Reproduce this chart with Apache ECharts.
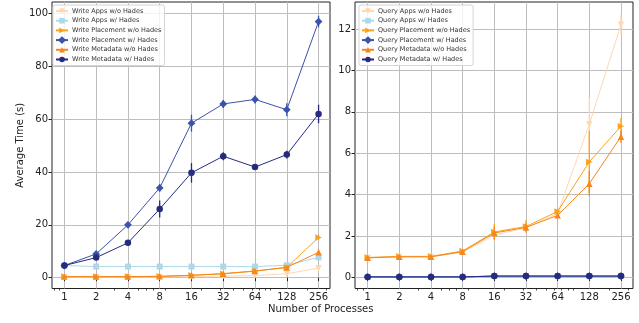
<!DOCTYPE html>
<html><head><meta charset="utf-8">
<script src="https://cdn.jsdelivr.net/npm/echarts@6/dist/echarts.min.js"></script>
<style>html,body{margin:0;padding:0;background:#fff}#c{width:639px;height:323px}</style>
</head><body><div id="c"></div><script>
// ---- data ----
const processes = [1, 2, 4, 8, 16, 32, 64, 128, 256];
const xTickLabels = [1, 2, 4, 8, 16, 32, 64, 128, 256];
const xMinorTicks = [0.8, 0.9, 3, 5, 6, 7, 9, 20, 30, 40, 50, 60, 70, 80, 90, 200, 300];
const leftYTicks = [0, 20, 40, 60, 80, 100];
const rightYTicks = [0, 2, 4, 6, 8, 10, 12];

const writeNames = ['Write Apps w/o Hades', 'Write Apps w/ Hades', 'Write Placement w/o Hades',
  'Write Placement w/ Hades', 'Write Metadata w/o Hades', 'Write Metadata w/ Hades'];
const queryNames = ['Query Apps w/o Hades', 'Query Apps w/ Hades', 'Query Placement w/o Hades',
  'Query Placement w/ Hades', 'Query Metadata w/o Hades', 'Query Metadata w/ Hades'];

const writeAppsWo       = [0.3, 0.3, 0.3, 0.3, 0.4, 0.6, 0.8, 1.5, 3.6];
const writeAppsW        = [4.6, 4.2, 4.2, 4.2, 4.2, 4.2, 4.2, 4.7, 7.7];
const writePlacementWo  = [0.4, 0.4, 0.4, 0.5, 0.9, 1.5, 2.5, 3.9, 15.2];
const writePlacementW   = [4.6, 9.0, 20.0, 34.0, 58.5, 65.8, 67.5, 63.6, 97.0];
const writeMetadataWo   = [0.4, 0.4, 0.4, 0.5, 0.9, 1.5, 2.5, 3.9, 9.6];
const writeMetadataW    = [4.6, 7.6, 13.2, 26.0, 39.7, 46.0, 41.9, 46.6, 62.0];

const writeAppsWoErr      = [0.1, 0.1, 0.1, 0.1, 0.1, 0.2, 0.2, 0.3, 0.8];
const writeAppsWErr       = [0.2, 0.2, 0.2, 0.2, 0.2, 0.2, 0.2, 0.3, 0.6];
const writePlacementWoErr = [0.1, 0.1, 0.1, 0.1, 0.2, 0.2, 0.3, 0.4, 1.0];
const writePlacementWErr  = [0.5, 0.8, 1.0, 1.5, 3.2, 1.5, 1.5, 2.5, 2.2];
const writeMetadataWoErr  = [0.1, 0.1, 0.1, 0.1, 0.2, 0.2, 0.3, 0.4, 1.0];
const writeMetadataWErr   = [0.5, 0.8, 1.0, 3.2, 3.7, 1.5, 1.0, 1.5, 3.5];

const queryAppsWo       = [0.95, 1.0, 1.0, 1.22, 2.05, 2.4, 3.1, 7.4, 12.2];
const queryAppsW        = [0.03, 0.03, 0.03, 0.03, 0.07, 0.07, 0.07, 0.07, 0.07];
const queryPlacementWo  = [0.97, 1.02, 1.02, 1.28, 2.2, 2.46, 3.19, 5.58, 7.3];
const queryPlacementW   = [0.03, 0.03, 0.03, 0.03, 0.07, 0.07, 0.07, 0.07, 0.07];
const queryMetadataWo   = [0.95, 1.0, 1.0, 1.25, 2.15, 2.42, 3.0, 4.53, 6.8];
const queryMetadataW    = [0.03, 0.03, 0.03, 0.03, 0.07, 0.07, 0.07, 0.07, 0.07];

const queryAppsWoErr      = [0.04, 0.04, 0.04, 0.06, 0.3, 0.2, 0.2, 1.3, 0.5];
const queryAppsWErr       = [0.01, 0.01, 0.01, 0.01, 0.01, 0.01, 0.01, 0.01, 0.01];
const queryPlacementWoErr = [0.04, 0.04, 0.04, 0.06, 0.4, 0.3, 0.15, 1.5, 0.4];
const queryPlacementWErr  = [0.01, 0.01, 0.01, 0.01, 0.01, 0.01, 0.01, 0.01, 0.01];
const queryMetadataWoErr  = [0.04, 0.04, 0.04, 0.06, 0.3, 0.2, 0.1, 0.6, 0.3];
const queryMetadataWErr   = [0.01, 0.01, 0.01, 0.01, 0.01, 0.01, 0.01, 0.01, 0.01];

// ---- styles ----
const colors = ['#ffd8b2', '#acd8e8', '#faa21c', '#3b53a8', '#f7861d', '#262b7d'];
const symbols = [
  {symbol: 'triangle', rotate: 180, size: 6.5},
  {symbol: 'rect', rotate: 0, size: 6},
  {symbol: 'triangle', rotate: -90, size: 6.5},
  {symbol: 'rect', rotate: 45, size: 5.5},
  {symbol: 'triangle', rotate: 0, size: 6.5},
  {symbol: 'circle', rotate: 0, size: 6.5}
];
const FONT = 'DejaVu Sans';

function lineSeries(name, vals, i, ax) {
  return {
    type: 'line', name: name, xAxisIndex: ax * 2, yAxisIndex: ax,
    data: processes.map((p, k) => [p, vals[k]]),
    symbol: symbols[i].symbol, symbolRotate: symbols[i].rotate, symbolSize: symbols[i].size,
    itemStyle: {color: colors[i]},
    lineStyle: {color: colors[i], width: 1},
    z: 3 + i, animation: false
  };
}
function errSeries(name, vals, errs, i, ax) {
  return {
    type: 'custom', name: name + ' err', xAxisIndex: ax * 2, yAxisIndex: ax, silent: true,
    z: 3 + i, animation: false,
    encode: {x: 0, y: 1},
    data: processes.map((p, k) => [p, vals[k], errs[k]]),
    renderItem: function (params, api) {
      const x = api.value(0), y = api.value(1), e = api.value(2);
      const a = api.coord([x, y - e]), b = api.coord([x, y + e]);
      return {type: 'line', shape: {x1: a[0], y1: a[1], x2: b[0], y2: b[1]},
        style: {stroke: colors[i], lineWidth: 1.3}};
    }
  };
}

const writeVals = [writeAppsWo, writeAppsW, writePlacementWo, writePlacementW, writeMetadataWo, writeMetadataW];
const writeErrs = [writeAppsWoErr, writeAppsWErr, writePlacementWoErr, writePlacementWErr, writeMetadataWoErr, writeMetadataWErr];
const queryVals = [queryAppsWo, queryAppsW, queryPlacementWo, queryPlacementW, queryMetadataWo, queryMetadataW];
const queryErrs = [queryAppsWoErr, queryAppsWErr, queryPlacementWoErr, queryPlacementWErr, queryMetadataWoErr, queryMetadataWErr];

const series = [];
for (let i = 0; i < 6; i++) {
  series.push(errSeries(writeNames[i], writeVals[i], writeErrs[i], i, 0));
  series.push(lineSeries(writeNames[i], writeVals[i], i, 0));
}
for (let i = 0; i < 6; i++) {
  series.push(errSeries(queryNames[i], queryVals[i], queryErrs[i], i, 1));
  series.push(lineSeries(queryNames[i], queryVals[i], i, 1));
}

function mainX(gi, min, max) {
  return {
    type: 'log', logBase: 2, gridIndex: gi, min: min, max: max, position: 'bottom',
    axisLine: {show: false},
    axisTick: {show: true, length: 3.5, inside: false, customValues: xTickLabels, lineStyle: {color: '#222', width: 1}},
    axisLabel: {show: true, customValues: xTickLabels, margin: 4, fontFamily: FONT, fontSize: 10, color: '#222',
      formatter: v => String(Math.round(v))},
    splitLine: {show: true, lineStyle: {color: '#bdbdbd', width: 1}},
    minorTick: {show: false}
  };
}
function minorX(gi, min, max) {
  return {
    type: 'log', logBase: 2, gridIndex: gi, min: min, max: max, position: 'bottom',
    axisLine: {show: false},
    axisTick: {show: true, length: 2, inside: false, customValues: xMinorTicks, lineStyle: {color: '#222', width: 0.8}},
    axisLabel: {show: false},
    splitLine: {show: false}
  };
}
function yAx(gi, min, max, ticks, name) {
  return {
    type: 'value', gridIndex: gi, min: min, max: max,
    name: name, nameLocation: 'middle', nameGap: 26,
    nameTextStyle: {fontFamily: FONT, fontSize: 10, color: '#222'},
    axisLine: {show: false},
    axisTick: {show: true, length: 3.5, inside: false, customValues: ticks, lineStyle: {color: '#222', width: 1}},
    axisLabel: {show: true, customValues: ticks, margin: 4, fontFamily: FONT, fontSize: 10, color: '#222'},
    splitLine: {show: true, lineStyle: {color: '#bdbdbd', width: 1}}
  };
}
function legend(names, left) {
  return {
    data: names, orient: 'vertical', left: left, top: 5,
    itemWidth: 12, itemHeight: 7, itemGap: 1.7,
    padding: [2, 3, 2, 2],
    backgroundColor: 'rgba(255,255,255,0.8)', borderColor: '#d5d5d5', borderWidth: 1, borderRadius: 2,
    textStyle: {fontFamily: FONT, fontSize: 6.5, color: '#333', lineHeight: 8, padding: [0, 0, 0, -1]},
    selectedMode: false
  };
}

const option = {
  backgroundColor: '#fff',
  animation: false,
  title: {text: 'Number of Processes', left: 268, top: 304,
    textStyle: {fontFamily: FONT, fontSize: 10, fontWeight: 'normal', color: '#222'}, padding: 0},
  grid: [
    {left: 52, right: 309, top: 2, bottom: 34.5, show: true, borderColor: '#222', borderWidth: 1, backgroundColor: 'transparent'},
    {left: 355, right: 6, top: 2, bottom: 34.5, show: true, borderColor: '#222', borderWidth: 1, backgroundColor: 'transparent'}
  ],
  xAxis: [
    mainX(0, Math.pow(2, -0.39), Math.pow(2, 8.36)),
    minorX(0, Math.pow(2, -0.39), Math.pow(2, 8.36)),
    mainX(1, Math.pow(2, -0.4), Math.pow(2, 8.38)),
    minorX(1, Math.pow(2, -0.4), Math.pow(2, 8.38))
  ],
  yAxis: [
    yAx(0, -4.1, 104.4, leftYTicks, 'Average Time (s)'),
    yAx(1, -0.53, 13.3, rightYTicks, '')
  ],
  legend: [legend(writeNames, 53), legend(queryNames, 359)],
  series: series
};
const chart = echarts.init(document.getElementById('c'), null, {renderer: 'canvas'});
chart.setOption(option);
</script></body></html>
